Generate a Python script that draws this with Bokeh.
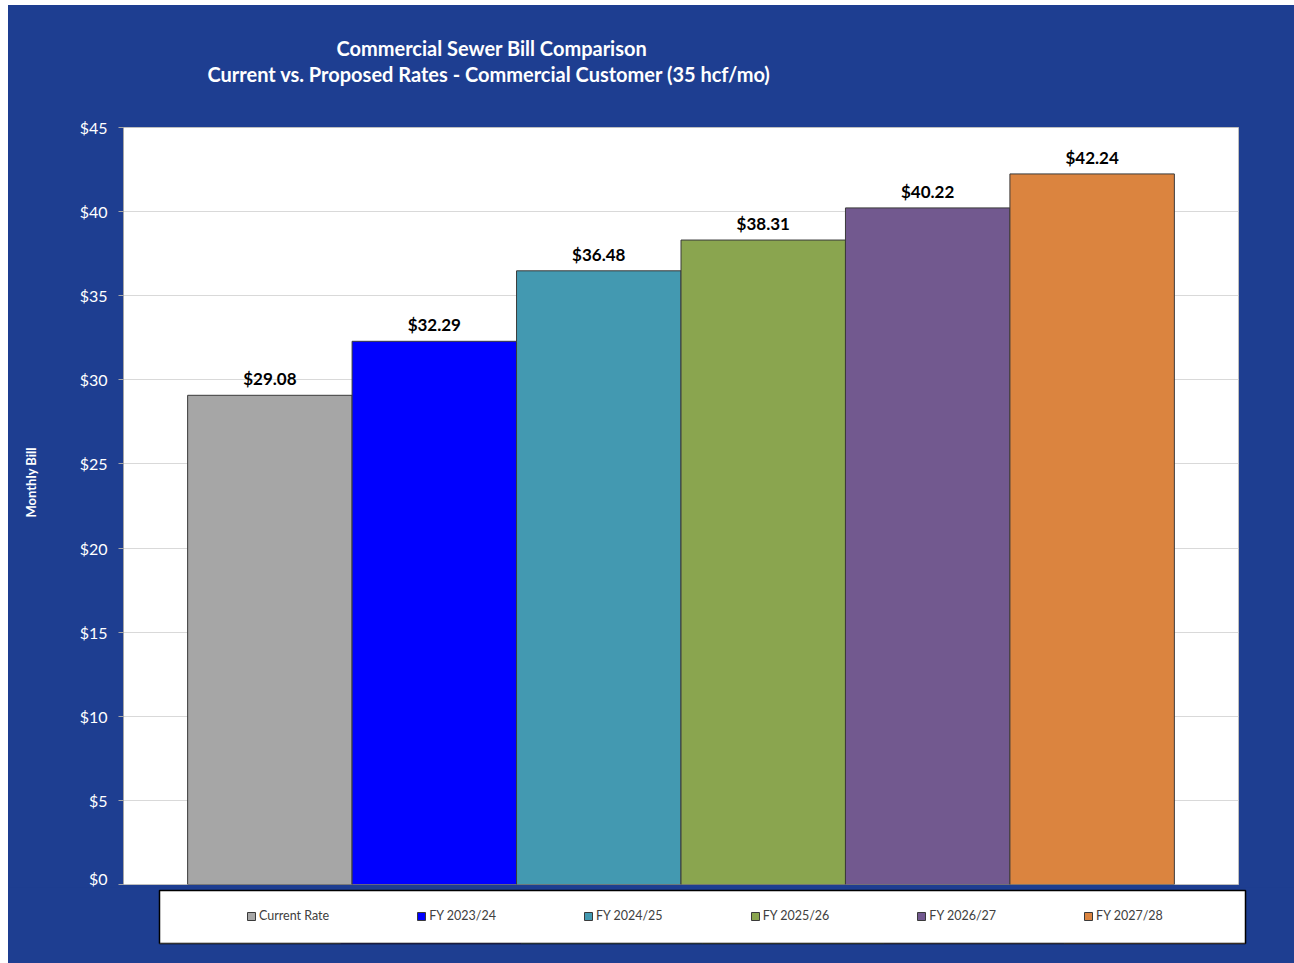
from bokeh.plotting import figure
from bokeh.layouts import column
from bokeh.models import (ColumnDataSource, FactorRange, Range1d, Legend, LegendItem,
                          LabelSet, Title, NumeralTickFormatter, FixedTicker)
from bokeh.core.properties import value
from bokeh.embed import file_html
from bokeh.resources import INLINE

# ---- data ----
categories = ["Current Rate", "FY 2023/24", "FY 2024/25", "FY 2025/26", "FY 2026/27", "FY 2027/28"]
monthly_bill = [29.08, 32.29, 36.48, 38.31, 40.22, 42.24]
bar_colors = ["#A6A6A6", "#0000FF", "#4399B1", "#8AA54F", "#72598F", "#DB843F"]
y_ticks = [0, 5, 10, 15, 20, 25, 30, 35, 40, 45]
title_lines = ["Commercial Sewer Bill Comparison",
               "Current vs. Proposed Rates - Commercial Customer (35 hcf/mo)"]
y_label = "Monthly Bill"

BG = "#1E3E91"
FONT = "Lato"

src = ColumnDataSource(dict(
    cat=categories, val=monthly_bill, color=bar_colors,
    label=[f"${v:.2f}" for v in monthly_bill],
))

# ---------------- main chart ----------------
p = figure(
    width=1286, height=882,
    x_range=FactorRange(factors=categories, range_padding=0.39, range_padding_units="absolute"),
    y_range=Range1d(0, 45),
    output_backend="svg", toolbar_location=None, frame_align=False,
    min_border_left=115, min_border_right=56, min_border_top=122, min_border_bottom=3,
)
p.background_fill_color = "white"
p.border_fill_color = BG
p.outline_line_color = "#BFBFBF"

r = p.vbar(x="cat", top="val", width=1.0, source=src, fill_color="color",
           line_color="#3A3A3A", line_width=1)

p.xgrid.visible = False
p.ygrid.ticker = FixedTicker(ticks=y_ticks)
p.ygrid.grid_line_color = "#D9D9D9"
p.xaxis.visible = False

ya = p.yaxis[0]
ya.ticker = FixedTicker(ticks=y_ticks)
ya.formatter = NumeralTickFormatter(format="$0")
ya.major_label_text_color = "white"
ya.major_label_text_font = FONT
ya.major_label_text_font_size = "16px"
ya.axis_line_color = "#A6A6A6"
ya.major_tick_line_color = "#A6A6A6"
ya.major_tick_in = 0
ya.major_tick_out = 5
ya.minor_tick_line_color = None
ya.major_label_standoff = 11
# leading no-break spaces nudge the centred label upward along the axis
ya.axis_label = "\u00a0" * 15 + y_label
ya.axis_label_text_color = "white"
ya.axis_label_text_font = FONT
ya.axis_label_text_font_style = "bold"
ya.axis_label_text_font_size = "13px"
ya.axis_label_standoff = 38

p.add_layout(LabelSet(x="cat", y="val", text="label", source=src, text_align="center",
                      text_baseline="alphabetic", y_offset=10, text_font=value(FONT),
                      text_font_style="bold", text_font_size="17px", text_color="black"))

# titles: the one added first sits closest to the plot
p.add_layout(Title(text=" ", standoff=16, text_font=FONT, text_font_size="20px",
                   text_color=BG), "above")
p.add_layout(Title(text=title_lines[1], align="left", offset=84, standoff=0,
                   text_font=FONT, text_font_style="bold", text_font_size="20px",
                   text_color="white"), "above")
p.add_layout(Title(text=title_lines[0], align="left", offset=213, standoff=0,
                   text_font=FONT, text_font_style="bold", text_font_size="20px",
                   text_color="white"), "above")

# ---------------- legend strip ----------------
lg = figure(
    width=1286, height=76,
    x_range=FactorRange(factors=categories), y_range=Range1d(100, 101),
    output_backend="svg", toolbar_location=None, frame_align=False,
    min_border_left=151, min_border_right=49, min_border_top=3, min_border_bottom=20,
)
lg.background_fill_color = "white"
lg.border_fill_color = BG
lg.outline_line_color = "black"
lg.outline_line_width = 1.5
lg.axis.visible = False
lg.grid.visible = False
# same bars, kept out of this strip's range: they only feed the legend swatches
r2 = lg.vbar(x="cat", top="val", width=1.0, source=src, fill_color="color",
             line_color="#3A3A3A", line_width=1)

legend = Legend(
    items=[LegendItem(label=value(c), renderers=[r2], index=i) for i, c in enumerate(categories)],
    orientation="horizontal", location=(77, 10),
    glyph_width=10, glyph_height=10, label_standoff=3, spacing=87, padding=10,
    background_fill_alpha=0, border_line_alpha=0,
    label_text_font=FONT, label_text_font_size="12.5px", label_text_color="#404040",
)
lg.add_layout(legend, "center")

layout = column(p, lg, spacing=0, margin=(5, 0, 0, 8),
                styles={"background-color": BG})

open("out.html", "w").write(file_html(layout, INLINE))
